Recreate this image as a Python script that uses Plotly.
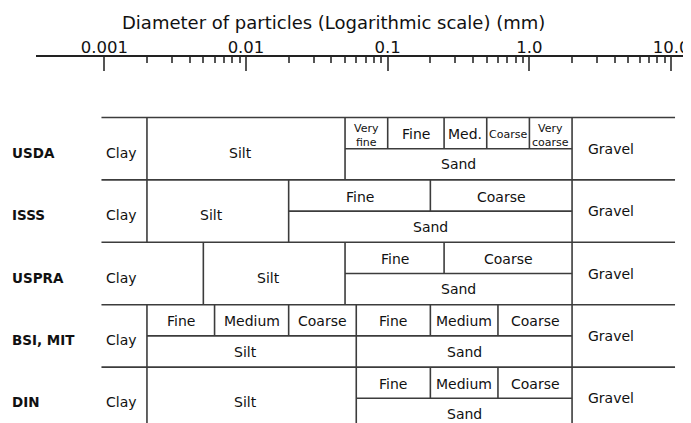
import math
import plotly.graph_objects as go

# ---------------- data ----------------
systems = ["USDA", "ISSS", "USPRA", "BSI, MIT", "DIN"]
clay_silt = [0.002, 0.002, 0.005, 0.002, 0.002]      # mm
silt_sand = [0.05, 0.02, 0.05, 0.06, 0.06]           # mm
sand_gravel = [2, 2, 2, 2, 2]                        # mm

silt_sub_bounds = [None, None, None, [0.002, 0.006, 0.02, 0.06], None]
silt_sub_names = [None, None, None, ["Fine", "Medium", "Coarse"], None]
sand_sub_bounds = [[0.05, 0.1, 0.25, 0.5, 1, 2],
                   [0.02, 0.2, 2],
                   [0.05, 0.25, 2],
                   [0.06, 0.2, 0.6, 2],
                   [0.06, 0.2, 0.6, 2]]
sand_sub_names = [["Very<br>fine", "Fine", "Med.", "Coarse", "Very<br>coarse"],
                  ["Fine", "Coarse"],
                  ["Fine", "Coarse"],
                  ["Fine", "Medium", "Coarse"],
                  ["Fine", "Medium", "Coarse"]]

tick_vals = [0.001, 0.01, 0.1, 1, 10]
tick_text = ["0.001", "0.01", "0.1", "1.0", "10.0"]
minor_vals = [m * d for d in (0.001, 0.01, 0.1, 1) for m in range(2, 10)]

title_text = "Diameter of particles (Logarithmic scale) (mm)"

# ---------------- layout constants ----------------
OFF = 8                      # page body margin
W, H = 691 - OFF, 423 - OFF
ML, MT = 36 - OFF, 57 - OFF
X0_PX = 104.3 - OFF          # pixel of 0.001 in figure coords
DEC_PX = 141.7               # pixels per decade
X_LEFT, X_RIGHT = 0.000955, 10.66       # table extent
FONT = "DejaVu Sans"
LINE_COL = "#3c3c3c"
TXT_COL = "#111111"
small = {(0, "Very<br>fine"), (0, "Coarse"), (0, "Very<br>coarse")}

# ---------------- table lines ----------------
lx, ly = [], []

def seg(x0, x1, y0, y1):
    lx.extend([x0, x1, None])
    ly.extend([y0, y1, None])

n = len(systems)
for i in range(n + 1):
    seg(X_LEFT, X_RIGHT, i, i)
for i in range(n):
    for b in (clay_silt[i], silt_sand[i], sand_gravel[i]):
        seg(b, b, i, i + 1)
    for bounds in (silt_sub_bounds[i], sand_sub_bounds[i]):
        if bounds:
            seg(bounds[0], bounds[-1], i + 0.5, i + 0.5)
            for b in bounds[1:-1]:
                seg(b, b, i, i + 0.5)

fig = go.Figure()
fig.add_trace(go.Scatter(x=lx, y=ly, mode="lines",
                         line=dict(color=LINE_COL, width=1.6),
                         hoverinfo="skip", showlegend=False))

# ---------------- labels ----------------
ann = []

def lab(x, y, text, size=14, bold=False, xanchor="center", xshift=0, yshift=0, xref="x"):
    ann.append(dict(x=x, y=y, xref=xref, yref="y", text=text, showarrow=False,
                    xanchor=xanchor, yanchor="middle", xshift=xshift, yshift=yshift,
                    font=dict(family=FONT, size=size, color=TXT_COL,
                              weight="bold" if bold else "normal")))

def gm(a, b):
    return (math.log10(a) + math.log10(b)) / 2

for i, name in enumerate(systems):
    # system name
    lab((10 - OFF - ML) / (W - ML), i + 0.5, name, size=13.5, bold=True,
        xanchor="left", yshift=-4, xref="paper")
    # clay
    lab(gm(X_LEFT, min(clay_silt)), i + 0.5, "Clay", xshift=-3, yshift=-4)
    # silt
    if silt_sub_bounds[i]:
        lab(gm(clay_silt[i], silt_sand[i]), i + 0.75, "Silt", xshift=-6)
        b = silt_sub_bounds[i]
        for k, t in enumerate(silt_sub_names[i]):
            lab(gm(b[k], b[k + 1]), i + 0.25, t, yshift=-1)
    else:
        lab(gm(clay_silt[i], silt_sand[i]), i + 0.5, "Silt", xshift=-6, yshift=-4)
    # sand
    lab(gm(silt_sand[i], sand_gravel[i]), i + 0.75, "Sand")
    b = sand_sub_bounds[i]
    for k, t in enumerate(sand_sub_names[i]):
        xc = gm(b[k], b[k + 1])
        sz = 11 if (i, t) in small else 14
        ys = -2 if "<br>" in t else -1
        lab(xc, i + 0.25, t, size=sz, yshift=ys)
    # gravel
    lab(math.log10(sand_gravel[i]), i + 0.5, "Gravel", xanchor="left", xshift=14)

# title
ann.append(dict(x=(333 - OFF - ML) / (W - ML), y=1 + (MT - (22 - OFF)) / (H - MT),
                xref="paper", yref="paper", text=title_text, showarrow=False,
                xanchor="center", yanchor="middle",
                font=dict(family=FONT, size=18, color=TXT_COL)))

# ---------------- axes ----------------
x_lo = -3 + (ML - X0_PX) / DEC_PX
x_hi = -3 + (W - X0_PX) / DEC_PX
row_px = 62.4
y_top = -((117.5 - OFF) - MT) / row_px
y_bot = y_top + (H - MT) / row_px

fig.update_layout(
    width=W, height=H,
    margin=dict(l=ML, r=0, t=MT, b=0, pad=0),
    paper_bgcolor="white", plot_bgcolor="white",
    showlegend=False,
    annotations=ann,
    xaxis=dict(type="log", side="top", range=[x_lo, x_hi], autorange=False,
               tickmode="array", tickvals=tick_vals, ticktext=tick_text,
               ticks="inside", ticklen=14, tickwidth=1.5, tickcolor="#555555",
               showline=True, linecolor="#222222", linewidth=1.5,
               showgrid=False, zeroline=False, ticklabelstandoff=-4,
               tickfont=dict(family=FONT, size=16.5, color=TXT_COL),
               minor=dict(tickvals=minor_vals, ticks="inside", ticklen=6,
                          tickwidth=1.5, tickcolor="#555555", showgrid=False)),
    yaxis=dict(range=[y_bot, y_top], autorange=False, visible=False,
               showgrid=False, zeroline=False),
)

fig.write_html("out.html")
